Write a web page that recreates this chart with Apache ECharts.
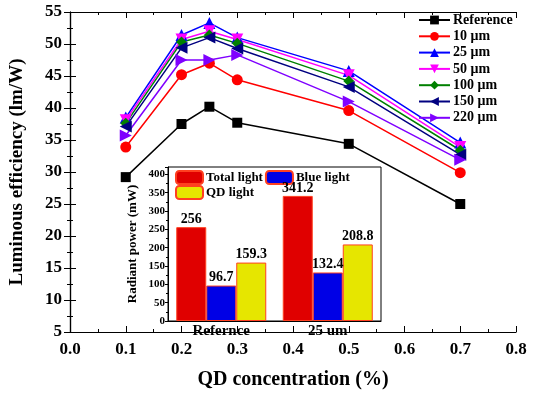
<!DOCTYPE html>
<html>
<head>
<meta charset="utf-8">
<script src="https://cdn.jsdelivr.net/npm/echarts@6/dist/echarts.min.js"></script>
<style>
  html, body { margin: 0; padding: 0; background: #fff; }
  #chart { width: 535px; height: 395px; }
</style>
</head>
<body>
<div id="chart"></div>
<script>
// main chart: luminous efficiency vs QD concentration
const concentration = [0.1, 0.2, 0.25, 0.3, 0.5, 0.7]
const seriesNames = ['Reference', '10 μm', '25 μm', '50 μm', '100 μm', '150 μm', '220 μm']
const refValues = [29.2, 37.5, 40.2, 37.7, 34.4, 25.0]
const um10Values = [33.9, 45.2, 47.0, 44.4, 39.6, 29.9]
const um25Values = [38.5, 51.4, 53.3, 51.0, 45.8, 34.6]
const um50Values = [38.1, 50.7, 52.0, 50.7, 45.1, 33.9]
const um100Values = [37.6, 50.3, 51.4, 50.1, 44.2, 33.4]
const um150Values = [37.1, 49.4, 51.0, 49.3, 43.3, 32.7]
const um220Values = [35.7, 47.5, 47.5, 48.3, 41.0, 31.9]

// inset: radiant power
const insetCategories = ['Refernce', '25 um']
const insetNames = ['Total light', 'Blue light', 'QD light']
const totalLight = [256, 341.2]
const blueLight = [96.7, 132.4]
const qdLight = [159.3, 208.8]

const FONT = '"Liberation Serif", "Times New Roman", serif'
const lineColors = ['#000000', '#ff0000', '#0000ff', '#ff00ff', '#008000', '#000080', '#7f00ff']
const symbols = ['rect', 'circle', 'triangle', 'triangle', 'diamond', 'triangle', 'triangle']
const rotates = [0, 0, 0, 180, 0, 90, -90]
const sizes = [10, 11, 12, 12, 11, 12, 12]
const lineData = [refValues, um10Values, um25Values, um50Values, um100Values, um150Values, um220Values]

const chartInstance = echarts.init(document.getElementById('chart'))

const lineSeries = lineData.map((vals, i) => ({
  type: 'line',
  name: seriesNames[i],
  xAxisIndex: 0,
  yAxisIndex: 0,
  data: vals.map((v, j) => [concentration[j], v]),
  symbol: symbols[i],
  symbolRotate: rotates[i],
  symbolSize: sizes[i],
  lineStyle: { color: lineColors[i], width: 1.5 },
  itemStyle: { color: lineColors[i] },
  z: 3,
}))

const barColors = ['#e00000', '#0000e6', '#e6e600']
const barSeries = [totalLight, blueLight, qdLight].map((vals, i) => ({
  type: 'bar',
  name: insetNames[i],
  xAxisIndex: 2,
  yAxisIndex: 2,
  data: vals,
  barWidth: 30,
  barGap: '0%',
  itemStyle: { color: barColors[i], borderColor: '#ff4020', borderWidth: 1 },
  label: {
    show: true,
    position: 'top',
    distance: 1,
    fontFamily: FONT,
    fontWeight: 'bold',
    fontSize: 14,
    color: '#000',
  },
  z: 5,
}))

const boldText = { fontFamily: FONT, fontWeight: 'bold', color: '#000' }
const insetLegend = (names, top) => ({
  data: names,
  left: 175,
  top: top,
  padding: 0,
  itemWidth: 27,
  itemHeight: 13,
  itemGap: 2,
  textStyle: { ...boldText, fontSize: 13, padding: [0, 0, 0, -2] },
})

const option = {
  animation: false,
  backgroundColor: '#fff',
  legend: [
    {
      data: seriesNames,
      orient: 'vertical',
      left: 418,
      top: 13,
      padding: 0,
      itemWidth: 31,
      itemHeight: 11,
      itemGap: 2.3,
      textStyle: { ...boldText, fontSize: 14, padding: [0, 0, 0, -2] },
    },
    insetLegend(['Total light', 'Blue light'], 170),
    insetLegend(['QD light'], 185),
  ],
  grid: [
    { left: 69, right: 19, top: 12, bottom: 55 },
    { left: 168, right: 154, top: 167, bottom: 74, show: true, borderColor: '#000', borderWidth: 1, backgroundColor: '#fff', z: 4 },
  ],
  xAxis: [
    {
      type: 'value',
      gridIndex: 0,
      min: 0,
      max: 0.8,
      interval: 0.1,
      name: 'QD concentration (%)',
      nameLocation: 'middle',
      nameGap: 38,
      nameTextStyle: { ...boldText, fontSize: 20 },
      axisLine: { lineStyle: { color: '#000', width: 1.2 } },
      axisTick: { inside: true, length: 6, lineStyle: { color: '#000' } },
      minorTick: { show: true, splitNumber: 2, length: 3, lineStyle: { color: '#000' } },
      axisLabel: { ...boldText, fontSize: 17, margin: 9, formatter: (v) => v.toFixed(1) },
      splitLine: { show: false },
    },
    {
      type: 'value',
      gridIndex: 0,
      position: 'top',
      min: 0,
      max: 0.8,
      interval: 0.1,
      axisLine: { show: true, lineStyle: { color: '#000', width: 1.2 } },
      axisTick: { inside: true, length: 6, lineStyle: { color: '#000' } },
      minorTick: { show: true, splitNumber: 2, length: 3, lineStyle: { color: '#000' } },
      axisLabel: { show: false },
      splitLine: { show: false },
    },
    {
      type: 'category',
      gridIndex: 1,
      data: insetCategories,
      axisLine: { lineStyle: { color: '#000' } },
      axisTick: { show: false },
      axisLabel: { ...boldText, fontSize: 15, margin: 3 },
      z: 6,
    },
  ],
  yAxis: [
    {
      type: 'value',
      gridIndex: 0,
      min: 5,
      max: 55,
      interval: 5,
      name: 'Luminous efficiency (lm/W)',
      nameLocation: 'middle',
      nameGap: 43,
      nameTextStyle: { ...boldText, fontSize: 19 },
      axisLine: { show: true, lineStyle: { color: '#000', width: 1.2 } },
      axisTick: { inside: true, length: 6, lineStyle: { color: '#000' } },
      minorTick: { show: true, splitNumber: 2, length: 3, lineStyle: { color: '#000' } },
      axisLabel: { ...boldText, fontSize: 17, margin: 8 },
      splitLine: { show: false },
    },
    {
      type: 'value',
      gridIndex: 0,
      position: 'right',
      min: 5,
      max: 55,
      interval: 5,
      axisLine: { show: true, lineStyle: { color: '#000', width: 1.2 } },
      axisTick: { inside: true, length: 6, lineStyle: { color: '#000' } },
      minorTick: { show: true, splitNumber: 2, length: 3, lineStyle: { color: '#000' } },
      axisLabel: { show: false },
      splitLine: { show: false },
    },
    {
      type: 'value',
      gridIndex: 1,
      min: 0,
      max: 420,
      interval: 50,
      name: 'Radiant power (mW)',
      nameLocation: 'middle',
      nameGap: 29,
      nameTextStyle: { ...boldText, fontSize: 13 },
      axisLine: { show: true, lineStyle: { color: '#000' } },
      axisTick: { show: true, length: 3, lineStyle: { color: '#000' } },
      minorTick: { show: true, splitNumber: 2, length: 2, lineStyle: { color: '#000' } },
      axisLabel: { ...boldText, fontSize: 11, margin: 3, showMaxLabel: false },
      splitLine: { show: false },
      z: 6,
    },
  ],
  series: [...lineSeries, ...barSeries],
}

chartInstance.setOption(option)
</script>
</body>
</html>
